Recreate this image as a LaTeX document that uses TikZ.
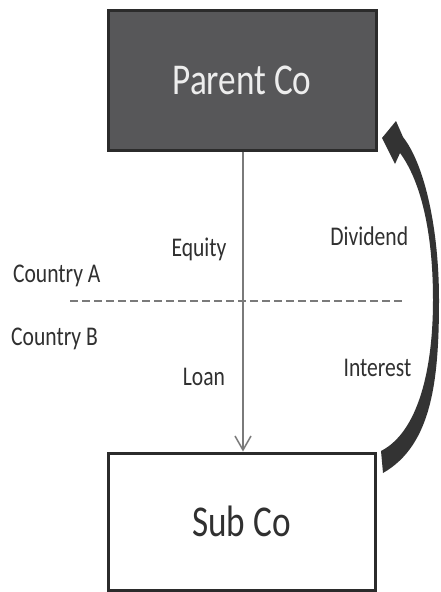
\documentclass[tikz,border=0pt]{standalone}
\usepackage{fontspec}
\setmainfont{Carlito}[FakeStretch=0.8]
\usetikzlibrary{arrows.meta}
\definecolor{boxdark}{HTML}{575759}
\definecolor{edgedark}{HTML}{2B2B2B}
\definecolor{linegrey}{HTML}{7A7A7A}
\definecolor{textdark}{HTML}{303030}
\definecolor{arrowdark}{HTML}{333333}
\tikzset{
  company/.style={rectangle, draw=edgedark, line width=3pt, inner sep=0pt,
    font=\fontsize{44}{48}\selectfont},
  flowlabel/.style={anchor=base, text=textdark, inner sep=0pt,
    font=\fontsize{27}{30}\selectfont},
  investline/.style={draw=linegrey, line width=1.5pt,
    -{Straight Barb[length=14pt,width=16pt,line width=1.5pt]}},
  borderline/.style={draw=linegrey, line width=1.5pt, dash pattern=on 7.5pt off 4.5pt},
}
\begin{document}
\begin{tikzpicture}[x=1pt,y=-1pt]
  \useasboundingbox (0,0) rectangle (440,592);
  \fill[white] (0,0) rectangle (440,592);

  % companies
  \node[company, fill=boxdark, text=white!93!black,
        minimum width=268pt, minimum height=140pt] (parent) at (242,80) {Parent Co};
  \node[company, fill=white, text=textdark,
        minimum width=267pt, minimum height=137pt] (sub) at (241.5,521.5) {Sub Co};

  % border between the two countries
  \coordinate (borderW) at (70,301);
  \coordinate (borderE) at (405,301);
  \draw[borderline] (borderW) -- (borderE);

  % equity and loan financing
  \draw[investline] (parent.south -| 243,0) -- (sub.north -| 243,0);

  % returns flowing back: dividend and interest (tapered curved block arrow)
  \fill[arrowdark]
    (403,137) .. controls (425,165) and (439,230) .. (439,300)
              .. controls (439,380) and (432,445) .. (383,473)
    -- (381,451)
              .. controls (418,432) and (433,370) .. (433,300)
              .. controls (433,230) and (420,180) .. (400,153)
    -- (395,164) -- (382,138) -- (396,121) -- cycle;

  % labels
  \node[flowlabel] (equity)   at (199,256.5)   {Equity};
  \node[flowlabel] (loan)     at (204,385)     {Loan};
  \node[flowlabel] (dividend) at (369.3,245.5) {Dividend};
  \node[flowlabel] (interest) at (377.5,376.5) {Interest};
  \node[flowlabel] (countryA) at (56.8,282.5)  {Country A};
  \node[flowlabel] (countryB) at (54.5,345)    {Country B};
\end{tikzpicture}
\end{document}
